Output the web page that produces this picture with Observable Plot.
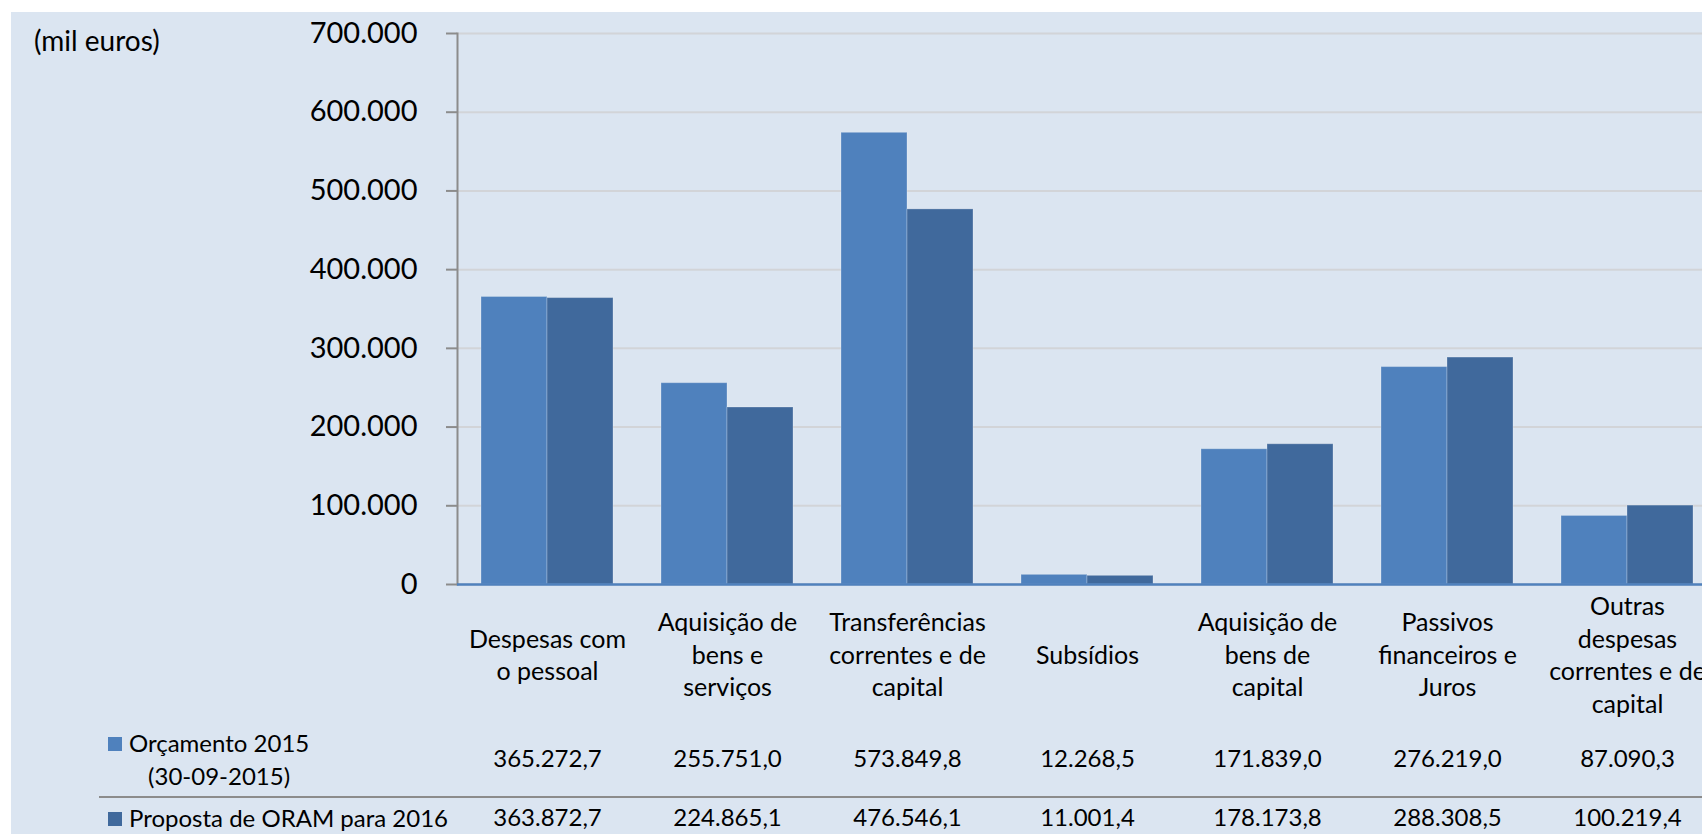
<!DOCTYPE html>
<html>
<head>
<meta charset="utf-8">
<script src="https://cdn.jsdelivr.net/npm/d3@7"></script>
<script src="https://cdn.jsdelivr.net/npm/@observablehq/plot@0.6"></script>
<style>
  html, body { margin: 0; padding: 0; overflow: hidden; background: #fff; }
  #wrap { position: relative; width: 1702px; height: 834px; overflow: hidden; background: #fff; font-family: Lato, "Open Sans", sans-serif; color: #000; }
  #panel { position: absolute; left: 11px; top: 12px; right: 0; bottom: 0; background: #dbe5f1; }
  #chart { position: absolute; left: 0; top: 0; }
  .unit { position: absolute; left: 34px; top: 23px; font-size: 28px; line-height: 34px; white-space: nowrap; }
  .leg { position: absolute; font-size: 24px; line-height: 33px; white-space: nowrap; }
  .sw { position: absolute; width: 14px; height: 14px; }
  .sep { position: absolute; left: 99px; right: 0; top: 796px; height: 2px; background: #8c8c8c; }
</style>
</head>
<body>
<div id="wrap">
  <div id="panel"></div>
  <div id="chart"></div>
  <div class="unit">(mil euros)</div>
  <div class="sep"></div>
</div>
<script>
// ---- data ----
const categories = [
  "Despesas com o pessoal",
  "Aquisição de bens e serviços",
  "Transferências correntes e de capital",
  "Subsídios",
  "Aquisição de bens de capital",
  "Passivos financeiros e Juros",
  "Outras despesas correntes e de capital"
];
const categoryLabels = [
  "Despesas com\no pessoal",
  "Aquisição de\nbens e\nserviços",
  "Transferências\ncorrentes e de\ncapital",
  "Subsídios",
  "Aquisição de\nbens de\ncapital",
  "Passivos\nfinanceiros e\nJuros",
  "Outras\ndespesas\ncorrentes e de\ncapital"
];
const seriesNames = ["Orçamento 2015 (30-09-2015)", "Proposta de ORAM para 2016"];
const seriesLegend = [["Orçamento 2015", "(30-09-2015)"], ["Proposta de ORAM para 2016"]];
const values2015 = [365272.7, 255751.0, 573849.8, 12268.5, 171839.0, 276219.0, 87090.3];
const values2016 = [363872.7, 224865.1, 476546.1, 11001.4, 178173.8, 288308.5, 100219.4];
const yTicks = [0, 100000, 200000, 300000, 400000, 500000, 600000, 700000];
const colors = ["#4f81bd", "#40699c"];

// ---- build ----
const locale = d3.formatLocale({decimal: ",", thousands: ".", grouping: [3], currency: ["", " €"]});
const fmtTick = locale.format(",.0f");
const fmtVal = locale.format(",.1f");

const rows = [];
categories.forEach((c, i) => {
  rows.push({cat: c, series: seriesNames[0], value: values2015[i]});
  rows.push({cat: c, series: seriesNames[1], value: values2016[i]});
});

const plot = Plot.plot({
  width: 1717,
  height: 834,
  marginLeft: 456,
  marginRight: 0,
  marginTop: 33,
  marginBottom: 250,
  style: {background: "transparent", fontFamily: "Lato, 'Open Sans', sans-serif", maxWidth: "none", overflow: "visible", color: "#000"},
  fx: {domain: categories, padding: 0, axis: null},
  x: {domain: seriesNames, paddingInner: 0, paddingOuter: 0.352, axis: null},
  y: {domain: [0, 700000], axis: null},
  color: {domain: seriesNames, range: colors},
  marks: [
    Plot.gridY(yTicks, {stroke: "#d2d4d8", strokeOpacity: 1, strokeWidth: 2}),
    Plot.axisY(yTicks, {facetAnchor: "left", tickSize: 11, tickPadding: 29, fontSize: 29, tickFormat: fmtTick, stroke: "#8c8c8c", strokeWidth: 2, fill: "#000", label: null}),
    Plot.frame({anchor: "left", facetAnchor: "left", stroke: "#8c8c8c", strokeWidth: 2}),
    Plot.barY(rows, {fx: "cat", x: "series", y: "value", fill: "series", stroke: "#ffffff", strokeOpacity: 0.25, strokeWidth: 1}),
    Plot.ruleY([0], {stroke: "#4f81bd", strokeWidth: 2.5}),
    Plot.text(categories, {fx: d => d, text: (d, i) => categoryLabels[i], frameAnchor: "bottom", dy: 69, lineAnchor: "middle", lineHeight: 1.3, fontSize: 25, fill: "#000"}),
    Plot.text(categories, {fx: d => d, text: (d, i) => fmtVal(values2015[i]), frameAnchor: "bottom", dy: 175, lineAnchor: "middle", fontSize: 24, fill: "#000"}),
    Plot.text(categories, {fx: d => d, text: (d, i) => fmtVal(values2016[i]), frameAnchor: "bottom", dy: 234, lineAnchor: "middle", fontSize: 24, fill: "#000"})
  ]
});
document.getElementById("chart").appendChild(plot);

// ---- legend rows of the data table ----
const wrap = document.getElementById("wrap");
const legendTops = [726, 801];
seriesLegend.forEach((lines, k) => {
  const sw = document.createElement("div");
  sw.className = "sw";
  sw.style.left = "108px";
  sw.style.top = (legendTops[k] + 11) + "px";
  sw.style.background = colors[k];
  wrap.appendChild(sw);
  const lab = document.createElement("div");
  lab.className = "leg";
  lab.style.left = "129px";
  lab.style.top = legendTops[k] + "px";
  lab.style.textAlign = "center";
  lab.innerHTML = lines.map(s => `<div>${s}</div>`).join("");
  wrap.appendChild(lab);
});
</script>
</body>
</html>
